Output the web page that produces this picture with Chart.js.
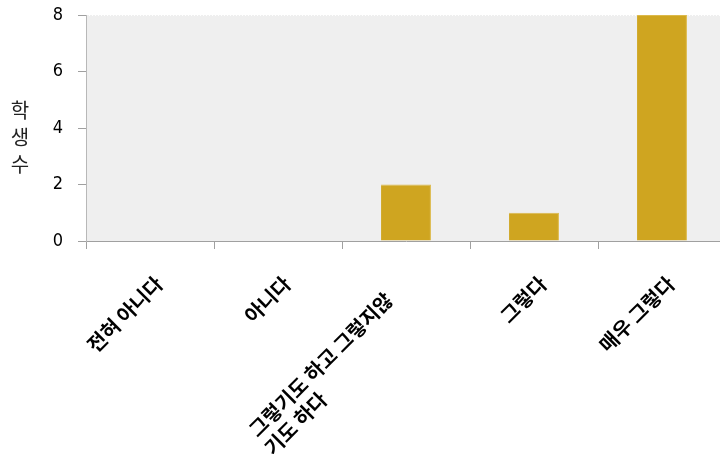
<!DOCTYPE html>
<html><head><meta charset="utf-8">
<script src="https://cdn.jsdelivr.net/npm/chart.js@4/dist/chart.umd.min.js"></script>
<style>
html,body{margin:0;padding:0;background:#fff;overflow:hidden;width:720px;height:463px;}
#wrap{position:absolute;left:0;top:0;width:728px;height:463px;}
</style></head>
<body><div id="wrap"><canvas id="c"></canvas></div>
<script>
const categories = ['전혀 아니다', '아니다', ['그렇기도 하고 그렇지않', '기도 하다'], '그렇다', '매우 그렇다'];
const studentCounts = [0, 0, 2, 1, 8];
const yTitleChars = ['학', '생', '수'];
const yTicks = [0, 2, 4, 6, 8];

const LABEL_FONT = 'bold 20px "Noto Sans CJK KR"';

const bgPlugin = {
  id: 'bg',
  beforeDraw(chart) {
    const {ctx, chartArea: a} = chart;
    ctx.save();
    ctx.fillStyle = '#efefef';
    ctx.fillRect(a.left, a.top, a.right - a.left, a.bottom - a.top);
    ctx.strokeStyle = '#ffffff';
    ctx.setLineDash([1, 2]);
    ctx.beginPath();
    ctx.moveTo(a.left, a.top + 0.5);
    ctx.lineTo(a.right, a.top + 0.5);
    ctx.stroke();
    ctx.restore();
  },
  afterDraw(chart) {
    const {ctx, chartArea: a} = chart;
    const xs = chart.scales.x;
    ctx.save();
    // y-axis title, upright stacked characters
    ctx.fillStyle = '#222';
    ctx.font = '20px "Noto Sans CJK KR"';
    ctx.textAlign = 'center';
    ctx.textBaseline = 'middle';
    const cy = 137;
    yTitleChars.forEach((ch, i) => ctx.fillText(ch, 20, cy + (i - 1) * 27));
    // rotated category labels
    ctx.fillStyle = '#000';
    ctx.font = LABEL_FONT;
    categories.forEach((lab, i) => {
      const px = xs.getPixelForValue(i) + 9;
      const py = a.bottom + 39;
      ctx.save();
      ctx.translate(px, py);
      ctx.rotate(-Math.PI / 4);
      ctx.textBaseline = 'middle';
      if (Array.isArray(lab)) {
        const lh = 24;
        const w1 = ctx.measureText(lab[0]).width;
        ctx.textAlign = 'right';
        ctx.fillText(lab[0], -30, -7);
        ctx.textAlign = 'left';
        for (let k = 1; k < lab.length; k++) {
          ctx.fillText(lab[k], -30 - w1 - 2, -7 + k * lh);
        }
      } else {
        ctx.textAlign = 'right';
        ctx.fillText(lab, 0, 0);
      }
      ctx.restore();
    });
    ctx.restore();
  }
};

new Chart(document.getElementById('c'), {
  type: 'bar',
  data: {
    labels: categories,
    datasets: [{
      data: studentCounts,
      backgroundColor: '#cfa520',
      borderColor: '#dcb94a',
      borderWidth: {top: 1, left: 0, right: 1, bottom: 0},
      barPercentage: 0.39,
      categoryPercentage: 1.0
    }]
  },
  plugins: [bgPlugin],
  options: {
    responsive: true,
    maintainAspectRatio: false,
    animation: false,
    layout: {padding: {top: 0, right: 2, left: 0, bottom: 0}},
    plugins: {legend: {display: false}, tooltip: {enabled: false}},
    scales: {
      x: {
        offset: true,
        grid: {offset: true, drawOnChartArea: false, tickLength: 8, color: '#a0a0a0'},
        border: {color: '#a0a0a0', width: 1},
        ticks: {display: false},
        afterFit(scale) { scale.height = 222; }
      },
      y: {
        min: 0, max: 8,
        afterBuildTicks(scale) { scale.ticks = yTicks.map(v => ({value: v})); },
        grid: {drawOnChartArea: false, tickLength: 8, color: '#a0a0a0'},
        border: {color: '#b8b8b8', width: 1},
        ticks: {
          color: '#000', padding: 15,
          font: {family: '"Liberation Sans Narrow", "DejaVu Sans Condensed", "Liberation Sans"', size: 18}
        },
        afterFit(scale) { scale.width = 86; scale.paddingTop = 15; scale.paddingBottom = 0; }
      }
    }
  }
});
</script>
</body></html>
